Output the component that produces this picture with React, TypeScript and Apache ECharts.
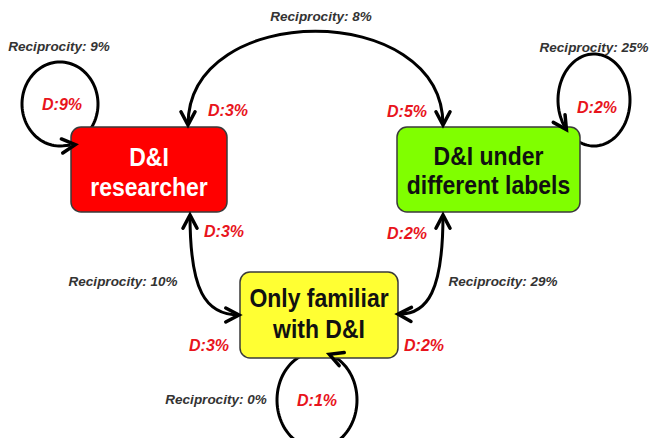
import React, { useEffect, useRef } from 'react';
import * as echarts from 'echarts';

// ---------- data ----------
const nodeLabels: string[][] = [
  ['D&I', 'researcher'],
  ['D&I under', 'different labels'],
  ['Only familiar', 'with D&I'],
];
const selfReciprocity = [9, 25, 0]; // % reciprocity of self-loop per node
const selfD = [9, 2, 1]; // density of self-loop per node
const pairs: [number, number][] = [[0, 1], [0, 2], [1, 2]];
const pairReciprocity = [8, 10, 29];
const pairD: [number, number][] = [[3, 5], [3, 3], [2, 2]]; // [at source end, at target end]

// ---------- layout ----------
const boxes = [
  { x: 71, y: 127, w: 156, h: 85, fill: '#ff0000', color: '#ffffff', lines: [156.5, 186.5] },
  { x: 397, y: 127, w: 183, h: 85, fill: '#80ff00', color: '#111111', lines: [155.5, 185] },
  { x: 240, y: 272, w: 158, h: 86, fill: '#ffff33', color: '#111111', lines: [298, 328.5] },
];
type P = [number, number];
const pairCurves: { p0: P; c1: P; c2: P; p3: P }[] = [
  { p0: [188, 125], c1: [188, 0], c2: [443, 0], p3: [443, 125] },
  { p0: [190, 215], c1: [190, 290], c2: [205, 315], p3: [239, 315] },
  { p0: [443, 215], c1: [443, 290], c2: [428, 315], p3: [398, 314] },
];
const pairRecPos: P[] = [[321, 16], [123, 281], [503, 281]];
const pairDPos: [P, P][] = [
  [[228, 110], [407, 111]],
  [[224, 231], [209, 345]],
  [[407, 233], [424, 345]],
];
const loops = [
  { cx: 60, cy: 104, rx: 38, ry: 42, a0: 45, a1: -275, ext: 12 },
  { cx: 594, cy: 100, rx: 36, ry: 46, a0: 120, a1: -220, ext: 0 },
  { cx: 317, cy: 400, rx: 40, ry: 48, a0: -110, a1: -432, ext: 0 },
];
const loopRecPos: P[] = [[59, 46], [594, 47], [216, 399]];
const loopDPos: P[] = [[62, 104], [597, 107], [317, 400]];

const FONT = '"Liberation Sans", Arial, sans-serif';
const RED = '#e8141c';
const GRAY = '#333333';

function arrowHead(tip: P, dir: P, z: number) {
  const len = Math.hypot(dir[0], dir[1]) || 1;
  const dx = dir[0] / len;
  const dy = dir[1] / len;
  const L = 15;
  const a = (28 * Math.PI) / 180;
  const rot = (ang: number): P => [dx * Math.cos(ang) - dy * Math.sin(ang), dx * Math.sin(ang) + dy * Math.cos(ang)];
  const r1 = rot(a);
  const r2 = rot(-a);
  return {
    type: 'polyline',
    z,
    shape: { points: [[tip[0] - L * r1[0], tip[1] - L * r1[1]], tip, [tip[0] - L * r2[0], tip[1] - L * r2[1]]] },
    style: { stroke: '#000', lineWidth: 3.5, fill: 'none', lineJoin: 'miter', lineCap: 'round' },
  };
}

function text(x: number, y: number, t: string, font: string, fill: string, z: number, scaleY = 1) {
  return {
    type: 'text',
    x,
    y,
    z,
    scaleY,
    style: { text: t, font, fill, align: 'center', verticalAlign: 'middle' },
  };
}

export default function App() {
  const ref = useRef<HTMLDivElement>(null);
  useEffect(() => {
    if (!ref.current) return;
    const chart = echarts.init(ref.current, null, { renderer: 'svg' });
    const els: any[] = [];
    // connector lines
    pairs.forEach((_, i) => {
      const c = pairCurves[i];
      els.push({
        type: 'bezierCurve',
        z: 1,
        shape: { x1: c.p0[0], y1: c.p0[1], cpx1: c.c1[0], cpy1: c.c1[1], cpx2: c.c2[0], cpy2: c.c2[1], x2: c.p3[0], y2: c.p3[1] },
        style: { stroke: '#000', lineWidth: 3, fill: 'none' },
      });
    });
    const loopEnds: { tip: P; dir: P }[] = [];
    loops.forEach((L) => {
      const pts: P[] = [];
      const n = 90;
      for (let k = 0; k <= n; k++) {
        const a = ((L.a0 + ((L.a1 - L.a0) * k) / n) * Math.PI) / 180;
        pts.push([L.cx + L.rx * Math.cos(a), L.cy + L.ry * Math.sin(a)]);
      }
      const ae = (L.a1 * Math.PI) / 180;
      const d: P = [L.rx * Math.sin(ae), -L.ry * Math.cos(ae)];
      const dl = Math.hypot(d[0], d[1]);
      const last = pts[pts.length - 1];
      const tip: P = [last[0] + (d[0] / dl) * L.ext, last[1] + (d[1] / dl) * L.ext];
      if (L.ext > 0) pts.push(tip);
      loopEnds.push({ tip, dir: d });
      els.push({ type: 'polyline', z: 1, shape: { points: pts }, style: { stroke: '#000', lineWidth: 3, fill: 'none' } });
    });
    // boxes
    boxes.forEach((b, i) => {
      els.push({
        type: 'rect',
        z: 2,
        shape: { x: b.x, y: b.y, width: b.w, height: b.h, r: 10 },
        style: { fill: b.fill, stroke: '#3a3a3a', lineWidth: 1.5 },
      });
      nodeLabels[i].forEach((line, j) => {
        els.push(text(b.x + b.w / 2, b.lines[j], line, `bold 23px ${FONT}`, b.color, 4, 1.15));
      });
    });
    // arrow heads
    pairCurves.forEach((c) => {
      els.push(arrowHead(c.p0, [c.p0[0] - c.c1[0], c.p0[1] - c.c1[1]], 3));
      els.push(arrowHead(c.p3, [c.p3[0] - c.c2[0], c.p3[1] - c.c2[1]], 3));
    });
    loopEnds.forEach((e) => els.push(arrowHead(e.tip, e.dir, 3)));
    // labels
    pairs.forEach((_, i) => {
      const rp = pairRecPos[i];
      els.push(text(rp[0], rp[1], `Reciprocity: ${pairReciprocity[i]}%`, `italic bold 13.5px ${FONT}`, GRAY, 4));
      pairD[i].forEach((d, j) => {
        const p = pairDPos[i][j];
        els.push(text(p[0], p[1], `D:${d}%`, `italic bold 16px ${FONT}`, RED, 4));
      });
    });
    loops.forEach((_, i) => {
      const rp = loopRecPos[i];
      els.push(text(rp[0], rp[1], `Reciprocity: ${selfReciprocity[i]}%`, `italic bold 13.5px ${FONT}`, GRAY, 4));
      const dp = loopDPos[i];
      els.push(text(dp[0], dp[1], `D:${selfD[i]}%`, `italic bold 16px ${FONT}`, RED, 4));
    });
    chart.setOption({
      animation: false,
      backgroundColor: '#ffffff',
      graphic: { elements: els },
    });
    return () => chart.dispose();
  }, []);
  return <div ref={ref} style={{ position: 'fixed', left: 0, top: 0, width: 651, height: 438 }} />;
}
